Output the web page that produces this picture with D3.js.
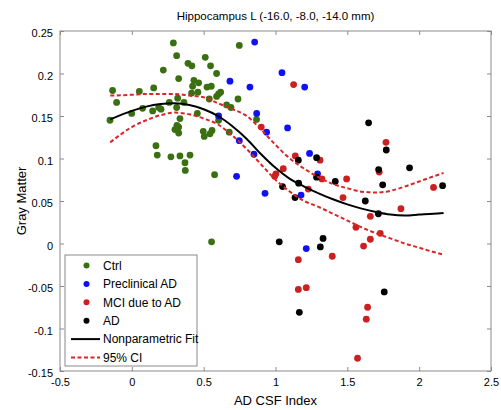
<!DOCTYPE html>
<html>
<head>
<meta charset="utf-8">
<script src="https://cdn.jsdelivr.net/npm/d3@7"></script>
<style>
  body { margin: 0; background: #fff; }
  text { font-family: "Liberation Sans", Arial, sans-serif; fill: #000; }
  .tick line { stroke: #8a8a8a; }
</style>
</head>
<body>
<div class="chart"></div>
<script>
// groups of subjects: AD CSF index (x) vs gray matter (y)
var ctrlX = [0.289,0.312,0.391,0.418,0.219,0.511,0.548,0.590,0.748,0.326,0.432,0.465,0.423,0.523,0.553,-0.134,0.052,0.152,0.460,0.416,0.618,0.604,0.590,0.539,0.739,-0.106,0.319,0.363,0.261,0.075,0.145,0.203,0.187,0.312,-0.001,0.456,-0.152,0.335,0.604,0.314,0.300,0.326,0.326,0.497,0.558,0.544,0.504,0.678,0.168,0.177,0.272,0.335,0.405,0.370,0.372,0.576,0.555,0.868,0.660,0.690];
var ctrlY = [0.236,0.221,0.212,0.209,0.204,0.219,0.209,0.200,0.233,0.194,0.192,0.189,0.185,0.184,0.185,0.180,0.179,0.183,0.178,0.177,0.178,0.176,0.173,0.170,0.170,0.166,0.171,0.166,0.166,0.159,0.156,0.158,0.160,0.160,0.153,0.153,0.145,0.147,0.145,0.139,0.134,0.130,0.137,0.132,0.133,0.129,0.126,0.131,0.115,0.104,0.102,0.103,0.104,0.095,0.086,0.081,0.002,0.146,0.163,0.160];

var precX = [0.683,0.822,0.855,0.869,0.604,0.748,0.850,0.729,1.045,1.203,0.938,1.084,1.237,1.293,0.927,1.178,1.214];
var precY = [0.191,0.184,0.237,0.153,0.150,0.121,0.105,0.079,0.201,0.184,0.131,0.136,0.106,0.082,0.059,0.057,-0.006];

var mciX = [1.126,0.901,1.138,1.310,1.054,1.003,0.994,1.769,1.722,1.495,1.323,1.228,1.470,1.873,2.100,1.660,1.560,1.729,1.660,1.613,1.395,1.159,1.159,1.214,1.641,1.632,1.571];
var mciY = [0.187,0.137,0.103,0.098,0.088,0.082,0.079,0.119,0.084,0.076,0.076,0.064,0.054,0.041,0.066,0.032,0.019,0.012,0.005,-0.003,-0.015,-0.019,-0.054,-0.052,-0.075,-0.089,-0.135];

var adX = [1.648,1.771,1.159,1.286,1.718,1.933,1.416,1.286,1.746,1.049,1.161,1.136,1.625,1.716,2.163,1.026,1.331,1.312,1.757,1.166];
var adY = [0.142,0.110,0.098,0.101,0.087,0.089,0.073,0.078,0.069,0.067,0.071,0.054,0.050,0.035,0.068,0.002,0.006,-0.004,-0.057,-0.081];

// nonparametric fit and 95% CI
var fitX  = [-0.15,0,0.1,0.2,0.3,0.4,0.5,0.6,0.7,0.8,0.9,1.0,1.1,1.2,1.3,1.4,1.5,1.6,1.7,1.8,1.9,2.0,2.1,2.17];
var fitY  = [0.146,0.156,0.161,0.164,0.165,0.163,0.158,0.150,0.138,0.123,0.105,0.089,0.076,0.067,0.059,0.052,0.046,0.041,0.037,0.034,0.033,0.034,0.035,0.036];
var ciUp  = [0.174,0.175,0.176,0.176,0.176,0.174,0.172,0.165,0.158,0.150,0.134,0.116,0.100,0.088,0.078,0.070,0.065,0.061,0.060,0.062,0.067,0.073,0.079,0.083];
var ciLow = [0.119,0.137,0.145,0.151,0.154,0.152,0.147,0.140,0.127,0.111,0.093,0.075,0.061,0.050,0.043,0.035,0.027,0.019,0.012,0.006,0.000,-0.005,-0.010,-0.013];

var xTicks = [-0.5,0,0.5,1,1.5,2,2.5];
var xTickLabels = ["-0.5","0","0.5","1","1.5","2","2.5"];
var yTicks = [-0.15,-0.1,-0.05,0,0.05,0.1,0.15,0.2,0.25];
var yTickLabels = ["-0.15","-0.1","-0.05","0","0.05","0.1","0.15","0.2","0.25"];

var groups = [
	{name: "Ctrl", xs: ctrlX, ys: ctrlY, color: "#3a6f12"},
	{name: "Preclinical AD", xs: precX, ys: precY, color: "#1010f5"},
	{name: "MCI due to AD", xs: mciX, ys: mciY, color: "#cc1f1f"},
	{name: "AD", xs: adX, ys: adY, color: "#000000"}
];

var width = 501, height = 410;
var pLeft = 60, pRight = 491, pTop = 31, pBottom = 371;

var svg = d3.select(".chart").append("svg")
	.attr("width", width)
	.attr("height", height);

var x = d3.scaleLinear().domain([-0.5, 2.5]).range([pLeft, pRight]);
var y = d3.scaleLinear().domain([-0.15, 0.25]).range([pBottom, pTop]);

// frame
svg.append("rect")
	.attr("x", pLeft).attr("y", pTop)
	.attr("width", pRight - pLeft).attr("height", pBottom - pTop)
	.attr("fill", "none").attr("stroke", "#8a8a8a").attr("stroke-width", 1);

function xLab(d) { return xTickLabels[xTicks.indexOf(d)]; }
function yLab(d) { return yTickLabels[yTicks.indexOf(d)]; }

var gx = svg.append("g").attr("transform", "translate(0," + pBottom + ")")
	.call(d3.axisBottom(x).tickValues(xTicks).tickFormat(xLab).tickSize(-4).tickPadding(8));
var gxt = svg.append("g").attr("transform", "translate(0," + pTop + ")")
	.call(d3.axisTop(x).tickValues(xTicks).tickFormat("").tickSize(-4));
var gy = svg.append("g").attr("transform", "translate(" + pLeft + ",0)")
	.call(d3.axisLeft(y).tickValues(yTicks).tickFormat(yLab).tickSize(-4).tickPadding(7));
var gyr = svg.append("g").attr("transform", "translate(" + pRight + ",0)")
	.call(d3.axisRight(y).tickValues(yTicks).tickFormat("").tickSize(-4));

[gx, gxt, gy, gyr].forEach(function(g) {
	g.select(".domain").remove();
	g.selectAll("text").style("font-size", "11px").attr("fill", "#000");
});
gy.selectAll("text").attr("dy", "0.5em");
gx.selectAll("text").attr("dy", "0.6em");

// points
groups.forEach(function(gr) {
	svg.append("g").selectAll("circle")
		.data(d3.range(gr.xs.length))
		.enter().append("circle")
			.attr("cx", function(i) { return x(gr.xs[i]); })
			.attr("cy", function(i) { return y(gr.ys[i]); })
			.attr("r", 3.4)
			.attr("fill", gr.color);
});

// curves
function curveOf(vals) {
	return d3.line()
		.x(function(d, i) { return x(fitX[i]); })
		.y(function(d) { return y(d); })
		.curve(d3.curveMonotoneX)(vals);
}

[ciUp, ciLow].forEach(function(c) {
	svg.append("path")
		.attr("d", curveOf(c))
		.attr("fill", "none")
		.attr("stroke", "#d9262a")
		.attr("stroke-width", 2)
		.attr("stroke-dasharray", "4,2.5");
});
svg.append("path")
	.attr("d", curveOf(fitY))
	.attr("fill", "none")
	.attr("stroke", "#000")
	.attr("stroke-width", 2);

// titles
svg.append("text")
	.attr("x", (pLeft + pRight) / 2).attr("y", 20)
	.attr("text-anchor", "middle")
	.style("font-size", "11.5px")
	.text("Hippocampus L (-16.0, -8.0, -14.0 mm)");

svg.append("text")
	.attr("x", (pLeft + pRight) / 2).attr("y", 405)
	.attr("text-anchor", "middle")
	.style("font-size", "13px")
	.text("AD CSF Index");

svg.append("text")
	.attr("transform", "translate(26," + ((pTop + pBottom) / 2) + ") rotate(-90)")
	.attr("text-anchor", "middle")
	.style("font-size", "13px")
	.text("Gray Matter");

// legend
var leg = svg.append("g");
leg.append("rect")
	.attr("x", 65).attr("y", 255)
	.attr("width", 132).attr("height", 111)
	.attr("fill", "#fff").attr("stroke", "#8a8a8a");

var legY = d3.scaleLinear().domain([0, 5]).range([265.5, 357.5]);

groups.forEach(function(gr, i) {
	leg.append("circle")
		.attr("cx", 86.5).attr("cy", legY(i)).attr("r", 3)
		.attr("fill", gr.color);
	leg.append("text")
		.attr("x", 103).attr("y", legY(i)).attr("dy", "0.36em")
		.style("font-size", "12px")
		.text(gr.name);
});

leg.append("line")
	.attr("x1", 71).attr("x2", 100)
	.attr("y1", legY(4)).attr("y2", legY(4))
	.attr("stroke", "#000").attr("stroke-width", 2);
leg.append("text")
	.attr("x", 103).attr("y", legY(4)).attr("dy", "0.36em")
	.style("font-size", "12px")
	.text("Nonparametric Fit");

leg.append("line")
	.attr("x1", 71).attr("x2", 100)
	.attr("y1", legY(5)).attr("y2", legY(5))
	.attr("stroke", "#d9262a").attr("stroke-width", 2)
	.attr("stroke-dasharray", "4,2.5");
leg.append("text")
	.attr("x", 103).attr("y", legY(5)).attr("dy", "0.36em")
	.style("font-size", "12px")
	.text("95% CI");
</script>
</body>
</html>
